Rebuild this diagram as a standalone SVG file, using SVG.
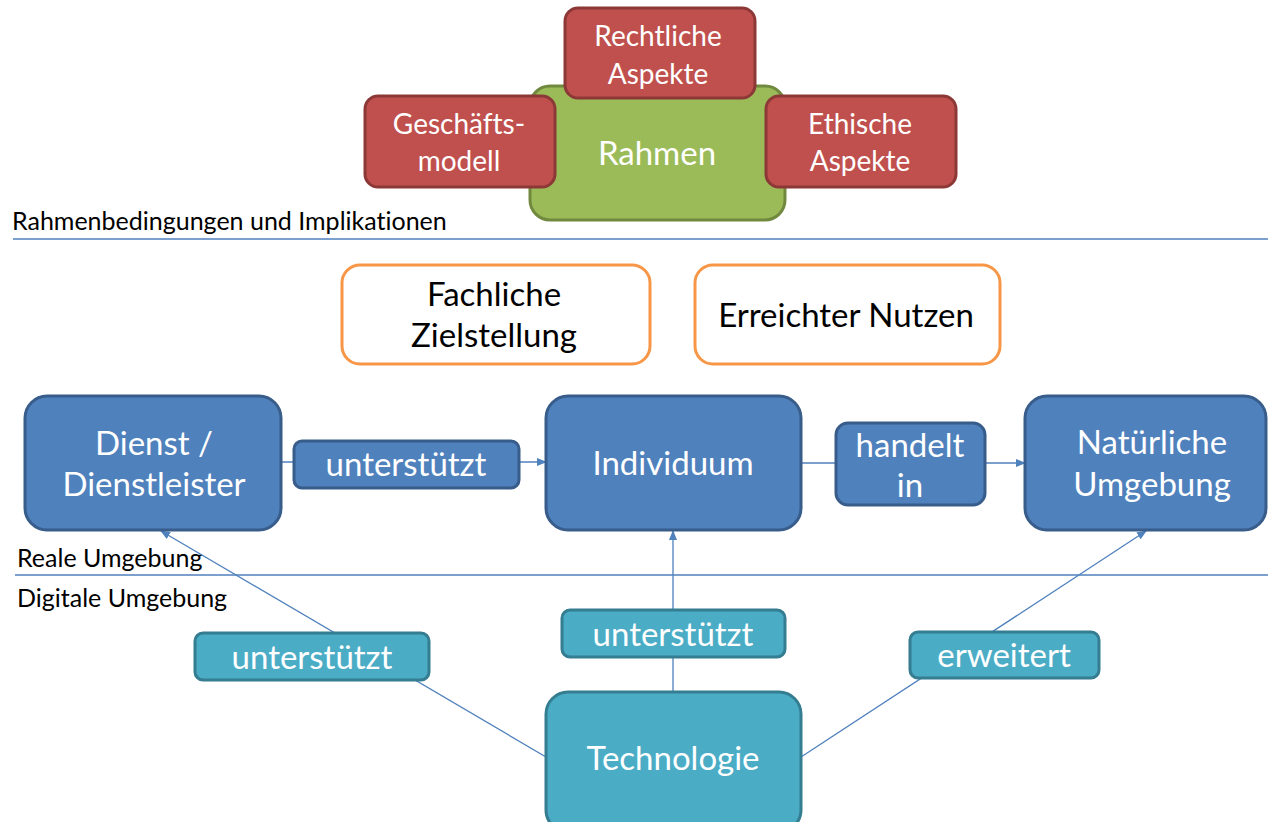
<svg xmlns="http://www.w3.org/2000/svg" width="1268" height="822" viewBox="0 0 1268 822">
<style>
text{font-family:Lato,"Open Sans","Liberation Sans",sans-serif;text-anchor:middle;font-variant-ligatures:none}
.w{fill:#fff}
.k{fill:#000}
.red{fill:#C0504D;stroke:#8C3836;stroke-width:3}
.green{fill:#9BBB59;stroke:#71893F;stroke-width:3}
.orange{fill:#fff;stroke:#F79646;stroke-width:3}
.blue{fill:#4F81BD;stroke:#385D8A;stroke-width:3}
.teal{fill:#4BACC6;stroke:#357D91;stroke-width:3}
.sep{stroke:#4F81BD;stroke-width:1.5}
.con{stroke:#4F81BD;stroke-width:1.3;fill:none}
.lbl{font-size:28px}
.big{font-size:33px}
.edge{font-size:33px}
.side{font-size:25px;text-anchor:start}
</style>
<defs>
<marker id="arr" markerWidth="10" markerHeight="8" refX="9" refY="4" orient="auto" markerUnits="userSpaceOnUse">
<path d="M0,0 L10,4 L0,8 Z" fill="#4F81BD"/>
</marker>
</defs>
<rect width="1268" height="822" fill="#fff"/>

<g id="separators">
<line class="sep" x1="13" y1="239" x2="1268" y2="239"/>
<line class="sep" x1="15" y1="575" x2="1268" y2="575"/>
<text class="k side" x="12" y="230">Rahmenbedingungen und Implikationen</text>
<text class="k side" x="17" y="567">Reale Umgebung</text>
<text class="k side" x="17" y="607">Digitale Umgebung</text>
</g>

<g id="rahmen">
<rect class="green" x="530" y="86" width="255" height="134" rx="20"/>
<text class="w" x="657" y="165" font-size="33">Rahmen</text>
</g>
<g id="rechtliche">
<rect class="red" x="565" y="8" width="190" height="90" rx="13"/>
<text class="w lbl" x="658" y="46">Rechtliche</text>
<text class="w lbl" x="658" y="84">Aspekte</text>
</g>
<g id="geschaeftsmodell">
<rect class="red" x="365" y="96" width="190" height="91" rx="13"/>
<text class="w lbl" x="459" y="134">Geschäfts-</text>
<text class="w lbl" x="459" y="171">modell</text>
</g>
<g id="ethische">
<rect class="red" x="766" y="96" width="190" height="91" rx="13"/>
<text class="w lbl" x="860" y="134">Ethische</text>
<text class="w lbl" x="860" y="171">Aspekte</text>
</g>

<g id="fachliche">
<rect class="orange" x="342" y="265" width="308" height="99" rx="18"/>
<text class="k big" x="494" y="306">Fachliche</text>
<text class="k big" x="494" y="347">Zielstellung</text>
</g>
<g id="nutzen">
<rect class="orange" x="695" y="265" width="305" height="99" rx="18"/>
<text class="k big" x="846" y="327">Erreichter Nutzen</text>
</g>

<g id="connectors">
<line class="con" x1="281" y1="462" x2="546" y2="462" marker-end="url(#arr)"/>
<line class="con" x1="801" y1="463" x2="1025" y2="463" marker-end="url(#arr)"/>
<line class="con" x1="546" y1="757" x2="161" y2="531" marker-end="url(#arr)"/>
<line class="con" x1="673" y1="692" x2="673" y2="531" marker-end="url(#arr)"/>
<line class="con" x1="801" y1="757" x2="1146" y2="531" marker-end="url(#arr)"/>
</g>

<g id="dienst">
<rect class="blue" x="25" y="396" width="256" height="134" rx="22"/>
<text class="w big" x="154" y="455">Dienst /</text>
<text class="w big" x="154" y="496">Dienstleister</text>
</g>
<g id="individuum">
<rect class="blue" x="546" y="396" width="255" height="134" rx="22"/>
<text class="w big" x="673" y="475">Individuum</text>
</g>
<g id="natuerliche">
<rect class="blue" x="1025" y="396" width="241" height="134" rx="22"/>
<text class="w big" x="1152" y="454">Natürliche</text>
<text class="w big" x="1152" y="496">Umgebung</text>
</g>
<g id="label-unterstuetzt-1">
<rect class="blue" x="294" y="441" width="225" height="47" rx="8"/>
<text class="w edge" x="406" y="476">unterstützt</text>
</g>
<g id="label-handelt-in">
<rect class="blue" x="836" y="423" width="149" height="82" rx="12"/>
<text class="w edge" x="910" y="457">handelt</text>
<text class="w edge" x="910" y="497">in</text>
</g>

<g id="technologie">
<rect class="teal" x="546" y="692" width="255" height="140" rx="22"/>
<text class="w big" x="673" y="770">Technologie</text>
</g>
<g id="label-unterstuetzt-2">
<rect class="teal" x="195" y="633" width="234" height="47" rx="8"/>
<text class="w edge" x="312" y="669">unterstützt</text>
</g>
<g id="label-unterstuetzt-3">
<rect class="teal" x="562" y="610" width="223" height="47" rx="8"/>
<text class="w edge" x="673" y="646">unterstützt</text>
</g>
<g id="label-erweitert">
<rect class="teal" x="910" y="632" width="189" height="46" rx="8"/>
<text class="w edge" x="1004" y="667">erweitert</text>
</g>
</svg>
